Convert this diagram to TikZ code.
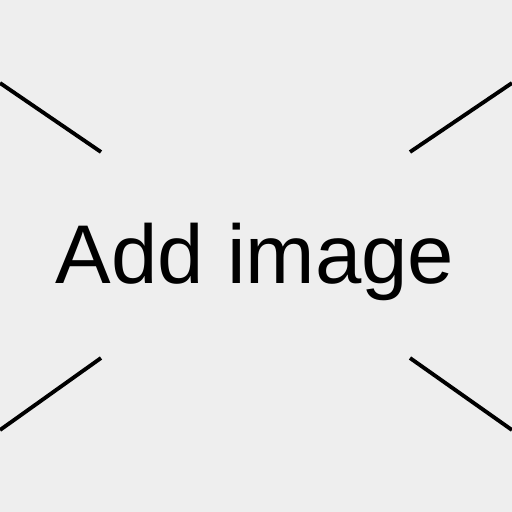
\documentclass[tikz,border=0pt]{standalone}
\usepackage{fontspec}
\setmainfont{Liberation Sans}
\usepackage{xcolor}
\definecolor{placebg}{HTML}{EEEEEE}
\usetikzlibrary{positioning}

\begin{document}
\begin{tikzpicture}[x=0.01cm,y=-0.01cm]
% Background
\fill[placebg] (0,0) rectangle (512,512);
\useasboundingbox (0,0) rectangle (512,512);
% Corner strokes
\draw[line width=1.1pt] (0,83) -- (101,152);
\draw[line width=1.1pt] (512,83) -- (410,152);
\draw[line width=1.1pt] (0,430) -- (101,358);
\draw[line width=1.1pt] (512,430) -- (410,358);
% Label
\node[font=\fontsize{23.7}{28}\selectfont, anchor=base] (label) at (255,283) {Add image};
\end{tikzpicture}
\end{document}
